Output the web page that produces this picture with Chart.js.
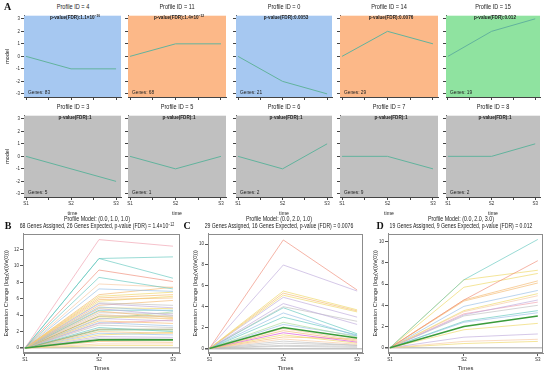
<!DOCTYPE html>
<html>
<head>
<meta charset="utf-8">
<title>STEM profiles</title>
<script src="https://cdn.jsdelivr.net/npm/chart.js@4.4.1/dist/chart.umd.min.js"></script>
<style>
  html, body { margin: 0; padding: 0; background: #fff; }
  #stage { position: relative; width: 550px; height: 374px; overflow: hidden; }
  #stage canvas { position: absolute; }
  .txt {
    position: absolute; white-space: nowrap; color: #222; line-height: 1;
    font-family: "Liberation Sans", Arial, sans-serif;
  }
  .c { transform: translate(-50%, -50%) scaleX(0.8); }
  .l { transform: translateY(-50%) scaleX(0.8); transform-origin: 0 50%; }
  .letter { transform: translate(-50%, -50%); font-family: "Liberation Serif", "DejaVu Serif", serif; font-weight: bold; font-size: 10px; color: #111; }
  sup { font-size: 70%; vertical-align: 0; position: relative; top: -0.45em; }
</style>
</head>
<body>
<div id="stage"></div>
<script>
// === data ===
const timeLabels = ["S1", "S2", "S3"];

// A: STEM profiles
const profileIds = [4, 11, 0, 14, 15, 3, 5, 6, 7, 8];
const profileGenes = [83, 68, 21, 29, 19, 5, 1, 2, 9, 2];
const profilePValues = ["1.1e-10", "1.4e-12", "0.0053", "0.0076", "0.012", "1", "1", "1", "1", "1"];
const profileModels = [
  [0, -1, -1], [0, 1, 1], [0, -2, -3], [0, 2, 1], [0, 2, 3],
  [0, -1, -2], [0, -1, 0], [0, -1, 1], [0, 0, -1], [0, 0, 1],
];
const modelTicks = [-3, -2, -1, 0, 1, 2, 3];

// B, C, D: genes assigned to profiles 11, 14, 15
const detailModels = [[0, 1, 1], [0, 2, 1], [0, 2, 3]];
const detailAssigned = [68, 29, 19];
const detailExpected = [26, 16, 9];
const detailPValues = ["1.4e-12", "0.0076", "0.012"];
const detailTicks = [[0, 2, 4, 6, 8, 10, 12], [0, 2, 4, 6, 8, 10], [0, 2, 4, 6, 8, 10]];

const genesB = [
  [0, 13.2, 12.4], [0, 10.9, 11.1], [0, 10.9, 8.5], [0, 9.5, 8.1], [0, 8.6, 7.2],
  [0, 7.8, 7.4], [0, 7.2, 6.9], [0, 6.5, 7.4], [0, 6.3, 6.8], [0, 6.1, 6.5],
  [0, 5.9, 6.1], [0, 5.7, 6.3], [0, 5.5, 5.2], [0, 5.4, 4.9], [0, 5.2, 5.8],
  [0, 5.0, 4.5], [0, 4.9, 4.8], [0, 4.8, 4.0], [0, 4.6, 4.6], [0, 4.5, 3.7],
  [0, 4.3, 4.2], [0, 4.1, 3.5], [0, 3.9, 3.9], [0, 3.8, 3.6], [0, 3.6, 3.3],
  [0, 3.5, 4.4], [0, 3.3, 3.0], [0, 3.1, 2.7], [0, 3.0, 3.4], [0, 2.8, 2.5],
  [0, 2.5, 2.0], [0, 2.3, 2.3], [0, 2.2, 2.2], [0, 2.0, 1.8], [0, 1.8, 1.6],
  [0, 1.6, 1.9], [0, 1.4, 1.3], [0, 1.2, 1.1], [0, 0.8, 0.7], [0, 0.5, 0.5],
  [0, 0.3, 0.3],
];
const genesC = [
  [0, 10.4, 5.6], [0, 8.0, 5.5], [0, 5.5, 3.7], [0, 5.3, 3.6], [0, 5.1, 3.5],
  [0, 4.9, 3.0], [0, 4.3, 2.3], [0, 4.0, 2.6], [0, 3.9, 1.4], [0, 3.4, 1.2],
  [0, 3.0, 1.3], [0, 2.5, 1.1], [0, 2.3, 1.2], [0, 1.9, 0.8], [0, 1.7, 0.7],
  [0, 1.5, 0.6], [0, 1.3, 0.5], [0, 1.1, 0.9], [0, 0.9, 0.4], [0, 0.7, 0.3],
  [0, 0.5, 0.3], [0, 0.3, 0.2], [0, 0.2, 0.1],
];
const genesD = [
  [0, 6.4, 10.2], [0, 4.5, 8.2], [0, 6.4, 7.3], [0, 5.7, 7.0], [0, 4.5, 6.3],
  [0, 4.4, 6.1], [0, 3.9, 5.4], [0, 3.5, 5.1], [0, 3.4, 4.9], [0, 3.1, 4.5],
  [0, 3.2, 4.3], [0, 3.0, 4.0], [0, 2.5, 3.5], [0, 2.4, 3.3], [0, 1.7, 2.3],
  [0, 1.0, 1.3], [0, 0.6, 0.8], [0, 0.4, 0.6],
];

// === styles ===
const FONT = '"Liberation Sans", Arial, sans-serif';
const panelFill = ["#a6c8f1", "#fcb888", "#a6c8f1", "#fcb888", "#8fe3a0",
                   "#c0c0c0", "#c0c0c0", "#c0c0c0", "#c0c0c0", "#c0c0c0"];
const palette = {
  pink: "rgba(240,160,175,0.65)", teal: "rgba(100,200,190,0.65)", salmon: "rgba(240,140,120,0.65)",
  ltblue: "rgba(150,190,230,0.65)", orange: "rgba(245,185,110,0.65)", yellow: "rgba(240,220,120,0.75)",
  lavender: "rgba(190,170,220,0.65)", grey: "rgba(185,185,185,0.6)", ltgreen: "rgba(170,220,150,0.65)",
  peach: "rgba(248,200,160,0.65)", olive: "rgba(150,150,90,0.6)", green: "rgba(120,190,120,0.65)",
  magenta: "rgba(220,90,220,0.7)",
};
const colorsB = ["pink", "teal", "teal", "salmon", "teal", "peach", "ltblue", "orange", "yellow", "orange",
  "orange", "yellow", "grey", "lavender", "orange", "ltblue", "yellow", "lavender", "teal", "orange",
  "grey", "peach", "olive", "yellow", "lavender", "ltgreen", "orange", "ltblue", "pink", "grey",
  "teal", "olive", "green", "orange", "ltblue", "yellow", "lavender", "grey", "orange", "peach", "yellow"];
const colorsC = ["salmon", "lavender", "yellow", "orange", "yellow", "lavender", "lavender", "grey", "teal",
  "ltblue", "teal", "ltgreen", "ltblue", "peach", "orange", "magenta", "yellow", "orange", "peach",
  "grey", "grey", "grey", "grey"];
const colorsD = ["teal", "salmon", "yellow", "yellow", "orange", "orange", "ltblue", "yellow", "peach",
  "lavender", "pink", "grey", "teal", "ltblue", "yellow", "lavender", "peach", "yellow"];

// === layout (px) ===
const colLeft = [24, 128, 236, 340, 446];
const colRight = [121, 226, 332, 438, 540];
const rowTop = [13, 113];
const rowBottom = [97, 197];
const detailBoxes = [
  { canvasLeft: 0, left: 23, right: 180, xMin: -0.027, xMax: 2.095, yMin: -0.6, yMax: 13.92, titleX: 97, letterX: 8 },
  { canvasLeft: 189, left: 208, right: 363, xMin: -0.02, xMax: 2.08, yMin: -0.44, yMax: 11.0, titleX: 279, letterX: 187 },
  { canvasLeft: 369, left: 388, right: 543, xMin: -0.027, xMax: 2.07, yMin: -0.49, yMax: 10.74, titleX: 461, letterX: 380 },
];
const detailTop = 232, detailBottom = 353;

const stage = document.getElementById("stage");

// panel background / frame
const panelDeco = {
  id: "panelDeco",
  beforeDatasetsDraw(chart, args, opts) {
    const { ctx, chartArea: a } = chart;
    if (opts.fill) {
      ctx.save();
      ctx.fillStyle = opts.fill;
      ctx.fillRect(a.left, a.top, a.right - a.left, a.bottom - a.top);
      ctx.restore();
    }
  },
  afterDraw(chart, args, opts) {
    const { ctx, chartArea: a } = chart;
    if (opts.frame) {
      ctx.save();
      ctx.strokeStyle = opts.frame;
      ctx.lineWidth = 1;
      ctx.strokeRect(Math.round(a.left) + 0.5, Math.round(a.top) + 0.5,
        Math.round(a.right - a.left) - 1, Math.round(a.bottom - a.top) - 1);
      ctx.restore();
    }
  },
};
Chart.register(panelDeco);

function addCanvas(x, y, w, h) {
  const c = document.createElement("canvas");
  c.width = w;
  c.height = h;
  c.style.left = x + "px";
  c.style.top = y + "px";
  c.style.width = w + "px";
  c.style.height = h + "px";
  stage.appendChild(c);
  return c;
}

function addText(html, x, y, cls, css) {
  const d = document.createElement("div");
  d.className = "txt " + cls;
  d.innerHTML = html;
  d.style.left = x + "px";
  d.style.top = y + "px";
  Object.assign(d.style, css || {});
  stage.appendChild(d);
}

function fmtP(p) {
  const parts = p.split("e");
  return parts.length === 2 ? `${parts[0]}×10<sup>${parts[1].replace("-", "−")}</sup>` : p;
}

function toPoints(values) {
  return values.map((v, j) => ({ x: j, y: v }));
}

function zeroLine(color, width) {
  return {
    color: ctx => (ctx.tick && ctx.tick.value === 0 ? color : "rgba(0,0,0,0)"),
    lineWidth: ctx => (ctx.tick && ctx.tick.value === 0 ? width : 1),
  };
}

// === A: small profile panels ===
function makeProfilePanel(i) {
  const col = i % 5, row = Math.floor(i / 5);
  const left = colLeft[col], right = colRight[col];
  const top = rowTop[row], bottom = rowBottom[row];
  const yw = col === 0 ? 24 : 5;
  const xh = row === 0 ? 4 : 20;
  const padTop = 1, padRight = 3;
  const canvas = addCanvas(left - yw, top - padTop, yw + (right - left) + padRight,
    padTop + (bottom - top) + xh);

  new Chart(canvas, {
    type: "line",
    data: {
      datasets: [{
        data: toPoints(profileModels[i]),
        borderColor: "#62b39d",
        borderWidth: 1,
        pointRadius: 0,
        tension: 0,
      }],
    },
    options: {
      responsive: false,
      animation: false,
      devicePixelRatio: 1,
      events: [],
      layout: { padding: { top: padTop, right: padRight, left: 0, bottom: 0 } },
      plugins: {
        legend: { display: false },
        tooltip: { enabled: false },
        panelDeco: { fill: panelFill[i] },
      },
      scales: {
        x: {
          type: "linear", min: -0.045, max: 2.11,
          afterBuildTicks: s => { s.ticks = [0, 0.5, 1, 1.5, 2].map(v => ({ value: v })); },
          afterFit: s => { s.height = xh; },
          ticks: {
            autoSkip: false, maxRotation: 0, padding: 1, color: "#333",
            font: { family: FONT, size: 4.5 },
            callback: v => (row === 1 && Number.isInteger(v) ? timeLabels[v] : ""),
          },
          grid: { drawOnChartArea: false, tickLength: 3, color: "#444" },
          border: { color: "#444" },
          title: { display: row === 1, text: "time", color: "#222", padding: 0, font: { family: FONT, size: 5.2 } },
        },
        y: {
          min: -3.25, max: 3.25,
          afterBuildTicks: s => { s.ticks = modelTicks.map(v => ({ value: v })); },
          afterFit: s => { s.width = yw; },
          ticks: {
            autoSkip: false, padding: 1, color: "#333",
            font: { family: FONT, size: 4.5 },
            callback: v => (col === 0 ? v : ""),
          },
          grid: Object.assign({ tickLength: 3, tickColor: "#444" }, zeroLine("rgba(215,140,115,0.35)", 1)),
          border: { color: "#444" },
          title: { display: col === 0, text: "model", color: "#222", padding: { top: 4.7, bottom: 0 }, font: { family: FONT, size: 5.4 } },
        },
      },
    },
  });

  const cx = (left + right) / 2;
  addText(`Profile ID = ${profileIds[i]}`, cx, top - 7, "c", { fontSize: "7px" });
  addText(`p-value(FDR):${fmtP(profilePValues[i])}`, cx + 2, top + 5, "c", { fontSize: "5.8px", fontWeight: "bold" });
  addText(`Genes: ${profileGenes[i]}`, left + 4, bottom - 5, "l", { fontSize: "6px" });
}

profileIds.forEach((id, i) => makeProfilePanel(i));

// === B, C, D: gene expression profiles ===
function makeDetailChart(k, genes, colors) {
  const box = detailBoxes[k];
  const padTop = 2, padRight = 3;
  const yw = box.left - box.canvasLeft;
  const xh = 374 - detailBottom;
  const canvas = addCanvas(box.canvasLeft, detailTop - padTop, box.right - box.canvasLeft + padRight,
    374 - detailTop + padTop);

  const datasets = [{
    data: toPoints(detailModels[k]),
    borderColor: "#3a9b3a",
    borderWidth: 1.6,
    pointRadius: 0,
    tension: 0,
  }];
  genes.forEach((g, j) => {
    datasets.push({
      data: toPoints(g),
      borderColor: palette[colors[j]],
      borderWidth: 1,
      pointRadius: 0,
      tension: 0,
    });
  });

  new Chart(canvas, {
    type: "line",
    data: { datasets },
    options: {
      responsive: false,
      animation: false,
      devicePixelRatio: 1,
      events: [],
      layout: { padding: { top: padTop, right: padRight, left: 0, bottom: 0 } },
      plugins: {
        legend: { display: false },
        tooltip: { enabled: false },
        panelDeco: { frame: "#8c8c8c" },
      },
      scales: {
        x: {
          type: "linear", min: box.xMin, max: box.xMax,
          afterBuildTicks: s => { s.ticks = [0, 1, 2].map(v => ({ value: v })); },
          afterFit: s => { s.height = xh; },
          ticks: {
            autoSkip: false, maxRotation: 0, padding: 1, color: "#333",
            font: { family: FONT, size: 4.5 },
            callback: v => timeLabels[v],
          },
          grid: { drawOnChartArea: false, tickLength: 3, color: "#555" },
          border: { color: "#8c8c8c" },
          title: { display: true, text: "Times", color: "#222", padding: { top: 0, bottom: 2.5 }, font: { family: FONT, size: 5.8 } },
        },
        y: {
          min: box.yMin, max: box.yMax,
          afterBuildTicks: s => { s.ticks = detailTicks[k].map(v => ({ value: v })); },
          afterFit: s => { s.width = yw; },
          ticks: {
            autoSkip: false, padding: 1, color: "#333",
            font: { family: FONT, size: 4.5 },
          },
          grid: Object.assign({ tickLength: 3, tickColor: "#555" }, zeroLine("#c6c6c6", 1.5)),
          border: { color: "#8c8c8c" },
          title: {
            display: true, text: "Expression Change (log₂(v(i)/v(0)))", color: "#222",
            padding: { top: 2.8, bottom: 0 }, font: { family: FONT, size: 5.6 },
          },
        },
      },
    },
  });

  const m = detailModels[k].map(v => v.toFixed(1)).join(", ");
  addText(`Profile Model: (${m})`, box.titleX, 218.5, "c", { fontSize: "6.7px" });
  addText(`${detailAssigned[k]} Genes Assigned, ${detailExpected[k]} Genes Expected, p-value (FDR) = ${fmtP(detailPValues[k])}`,
    box.titleX, 226, "c", { fontSize: "6.4px" });
  addText("BCD"[k], box.letterX, 225.5, "letter");
}

makeDetailChart(0, genesB, colorsB);
makeDetailChart(1, genesC, colorsC);
makeDetailChart(2, genesD, colorsD);

addText("A", 7.5, 6.5, "letter");
</script>
</body>
</html>
